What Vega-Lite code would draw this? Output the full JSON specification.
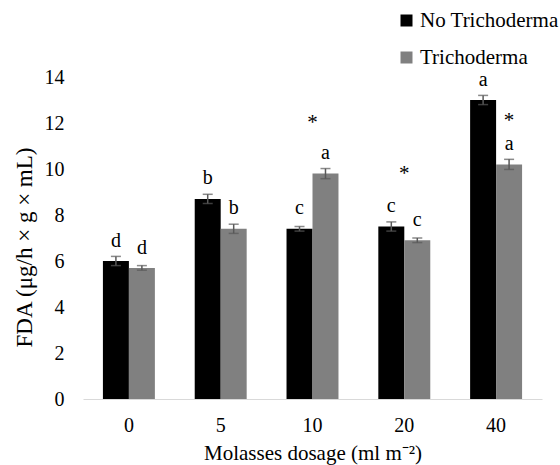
{
  "$schema": "https://vega.github.io/schema/vega-lite/v6.json",
  "autosize": {"type": "none"},
  "width": 459,
  "height": 322,
  "padding": {"left": 83, "top": 77, "right": 18, "bottom": 66},
  "config": {
    "font": "Liberation Serif",
    "view": {"stroke": null},
    "text": {"font": "Liberation Serif"},
    "axis": {"labelFont": "Liberation Serif", "titleFont": "Liberation Serif", "labelColor": "#000", "titleColor": "#000", "titleFontWeight": "normal", "grid": false, "ticks": false},
    "legend": {"labelFont": "Liberation Serif", "labelColor": "#000"}
  },
  "datasets": {
    "bars": [
      {"dose": "0", "group": "No Trichoderma", "value": 6.0, "err": 0.2, "letter": "d", "ly": 6.87},
      {"dose": "0", "group": "Trichoderma", "value": 5.7, "err": 0.1, "letter": "d", "ly": 6.57},
      {"dose": "5", "group": "No Trichoderma", "value": 8.7, "err": 0.2, "letter": "b", "ly": 9.6},
      {"dose": "5", "group": "Trichoderma", "value": 7.4, "err": 0.2, "letter": "b", "ly": 8.3},
      {"dose": "10", "group": "No Trichoderma", "value": 7.4, "err": 0.1, "letter": "c", "ly": 8.3},
      {"dose": "10", "group": "Trichoderma", "value": 9.8, "err": 0.22, "letter": "a", "ly": 10.7},
      {"dose": "20", "group": "No Trichoderma", "value": 7.5, "err": 0.2, "letter": "c", "ly": 8.4},
      {"dose": "20", "group": "Trichoderma", "value": 6.9, "err": 0.1, "letter": "c", "ly": 7.78},
      {"dose": "40", "group": "No Trichoderma", "value": 13.0, "err": 0.2, "letter": "a", "ly": 13.85},
      {"dose": "40", "group": "Trichoderma", "value": 10.2, "err": 0.22, "letter": "a", "ly": 11.1}
    ],
    "stars": [
      {"dose": "10", "sy": 12.0},
      {"dose": "20", "sy": 9.8}
    ],
    "stars2": [
      {"dose": "40", "group": "Trichoderma", "sy": 12.1}
    ]
  },
  "encoding": {
    "x": {
      "field": "dose", "type": "nominal", "sort": ["0", "5", "10", "20", "40"],
      "scale": {"paddingInner": 0.434, "paddingOuter": 0.217},
      "axis": {"title": "Molasses dosage (ml m⁻²)", "labelFont": "Liberation Serif", "titleFont": "Liberation Serif", "labelAngle": 0, "labelFontSize": 20, "titleFontSize": 21, "labelPadding": 16, "titlePadding": 7, "domainColor": "#d9d9d9", "domainWidth": 1.2}
    }
  },
  "layer": [
    {
      "data": {"name": "bars"},
      "mark": {"type": "bar", "stroke": null},
      "encoding": {
        "xOffset": {"field": "group", "type": "nominal", "scale": {"paddingInner": 0, "paddingOuter": 0}},
        "y": {"field": "value", "type": "quantitative", "scale": {"domain": [0, 14]},
          "axis": {"title": "FDA (μg/h × g × mL)", "labelFont": "Liberation Serif", "titleFont": "Liberation Serif", "values": [0, 2, 4, 6, 8, 10, 12, 14], "labelFontSize": 20, "titleFontSize": 23, "domain": false, "labelPadding": 19, "titlePadding": 8, "titleY": 170}},
        "color": {"field": "group", "type": "nominal",
          "scale": {"domain": ["No Trichoderma", "Trichoderma"], "range": ["#000000", "#808080"]},
          "legend": {"title": null, "orient": "none", "legendX": 313, "legendY": -67, "symbolType": "square", "symbolSize": 144, "labelFont": "Liberation Serif", "labelFontSize": 21, "rowPadding": 15, "symbolStrokeWidth": 0, "labelOffset": 3}}
      }
    },
    {
      "data": {"name": "bars"},
      "transform": [{"calculate": "datum.value - datum.err", "as": "lo"}, {"calculate": "datum.value + datum.err", "as": "hi"}],
      "mark": {"type": "rule", "color": "#595959", "strokeWidth": 1.5},
      "encoding": {
        "xOffset": {"field": "group", "type": "nominal"},
        "y": {"field": "lo", "type": "quantitative"},
        "y2": {"field": "hi"}
      }
    },
    {
      "data": {"name": "bars"},
      "transform": [{"calculate": "datum.value - datum.err", "as": "lo"}],
      "mark": {"type": "tick", "color": "#595959", "size": 10, "thickness": 1.5, "orient": "horizontal"},
      "encoding": {
        "xOffset": {"field": "group", "type": "nominal"},
        "y": {"field": "lo", "type": "quantitative"}
      }
    },
    {
      "data": {"name": "bars"},
      "transform": [{"calculate": "datum.value + datum.err", "as": "hi"}],
      "mark": {"type": "tick", "color": "#595959", "size": 10, "thickness": 1.5, "orient": "horizontal"},
      "encoding": {
        "xOffset": {"field": "group", "type": "nominal"},
        "y": {"field": "hi", "type": "quantitative"}
      }
    },
    {
      "data": {"name": "bars"},
      "mark": {"type": "text", "font": "Liberation Serif", "fontSize": 20, "baseline": "middle", "color": "#000"},
      "encoding": {
        "xOffset": {"field": "group", "type": "nominal"},
        "y": {"field": "ly", "type": "quantitative"},
        "text": {"field": "letter"}
      }
    },
    {
      "data": {"name": "stars"},
      "mark": {"type": "text", "font": "Liberation Serif", "fontSize": 21, "baseline": "middle", "color": "#000"},
      "encoding": {
        "y": {"field": "sy", "type": "quantitative"},
        "text": {"value": "*"}
      }
    },
    {
      "data": {"name": "stars2"},
      "mark": {"type": "text", "font": "Liberation Serif", "fontSize": 21, "baseline": "middle", "color": "#000"},
      "encoding": {
        "xOffset": {"field": "group", "type": "nominal"},
        "y": {"field": "sy", "type": "quantitative"},
        "text": {"value": "*"}
      }
    }
  ]
}
